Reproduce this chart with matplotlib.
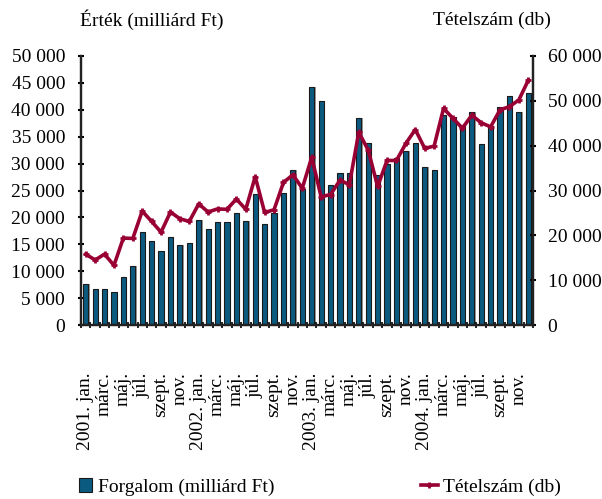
import numpy as np
import matplotlib
matplotlib.use('Agg')
import matplotlib.pyplot as plt
from matplotlib.ticker import FuncFormatter
from matplotlib.lines import Line2D
from matplotlib.patches import Patch

plt.rcParams['font.family'] = ['Liberation Serif', 'DejaVu Serif']

# monthly data 2001 jan - 2004 dec
forgalom = [7700, 6600, 6600, 6100, 8900, 11000, 17300, 15600, 13700, 16400, 14900, 15200,
            19500, 17900, 19100, 19100, 20900, 19300, 24300, 18800, 20900, 24500, 28800, 25300,
            44300, 41700, 26000, 28200, 28300, 38400, 33800, 27900,
            30000, 31000, 32400, 33800, 29400, 28800, 39000, 38600, 37200, 39500, 33600, 36900,
            40600, 42600, 39500, 43100]
tetelszam = [15800, 14500, 15800, 13300, 19400, 19300, 25400, 23100, 20700, 25200, 23700, 23100,
             27000, 25200, 25900, 25800, 28100, 25800, 33100, 25100, 25700, 31800, 33500, 30500,
             37400, 28600, 29100, 32300, 31300, 43000, 39000, 30900,
             36700, 36700, 40500, 43600, 39400, 39900, 48300, 46100, 43900, 46800, 45100, 44200,
             48000, 48700, 50200, 54600]
honapok = ['jan.', 'márc.', 'máj.', 'júl.', 'szept.', 'nov.']
evek = ['2001.', '2002.', '2003.', '2004.']

labels = []
for ev in evek:
    for h in honapok:
        labels.append((ev + ' ' + h) if h == 'jan.' else h)

bar_col = '#0b5a80'
line_col = '#990033'
fs = 14      # horizontal text
fs_rot = 14  # rotated month labels

fig = plt.figure(figsize=(6.02, 4.99), dpi=100)
ax = fig.add_axes([81 / 602, 1 - 325 / 499, 452 / 602, 269 / 499])
ax2 = ax.twinx()

x = np.arange(len(forgalom))
ax.bar(x + 0.12, forgalom, width=0.58, color='#999999', zorder=1)
ax.bar(x, forgalom, width=0.55, color=bar_col, edgecolor='#1a1a1a', linewidth=0.8, zorder=2)
ax2.plot(x, tetelszam, color=line_col, lw=2.6, marker='+', ms=5, mew=2, zorder=3)

ax.set_xlim(-0.5, len(x) - 0.5)
ax.set_ylim(0, 50000)
ax2.set_ylim(0, 60000)
ax.set_yticks(np.arange(0, 50001, 5000))
ax2.set_yticks(np.arange(0, 60001, 10000))
fmt = FuncFormatter(lambda v, p: '{:,}'.format(int(v)).replace(',', ' '))
ax.yaxis.set_major_formatter(fmt)
ax2.yaxis.set_major_formatter(fmt)

ax.set_xticks(x[::2])
ax.set_xticks(np.arange(-0.5, len(x), 1), minor=True)
ax.tick_params(axis='x', which='major', length=0, pad=34)
ax.tick_params(axis='x', which='minor', direction='inout', length=5, width=1.2)
ax.tick_params(axis='y', direction='inout', length=5, width=1.5, labelsize=fs, pad=9)
ax2.tick_params(axis='y', direction='inout', length=5, width=1.5, labelsize=fs, pad=8)
ax.set_xticklabels(labels)
plt.setp(ax.get_xticklabels(), rotation=90, rotation_mode='anchor',
         ha='right', va='center', fontsize=fs_rot)

for a in (ax, ax2):
    a.spines['top'].set_visible(False)
    for s in ('left', 'right', 'bottom'):
        a.spines[s].set_linewidth(1.6)
        a.spines[s].set_color('#222222')

fig.text(80 / 602, 1 - 20 / 499, 'Érték (milliárd Ft)', fontsize=fs, va='center', ha='left')
fig.text(433 / 602, 1 - 20 / 499, 'Tételszám (db)', fontsize=fs, va='center', ha='left')

handles = [Patch(facecolor=bar_col, edgecolor='#1a1a1a', linewidth=0.8)]
fig.legend(handles, ['Forgalom (milliárd Ft)'], loc='center left',
           bbox_to_anchor=(61 / 602, 1 - 487 / 499), frameon=False, fontsize=fs,
           handlelength=0.7, handleheight=0.7, handletextpad=0.3)
h2 = [Line2D([0], [0], color=line_col, lw=2.6, marker='+', ms=5, mew=2)]
fig.legend(h2, ['Tételszám (db)'], loc='center left',
           bbox_to_anchor=(403 / 602, 1 - 487 / 499), frameon=False, fontsize=fs,
           handlelength=0.9, handletextpad=0.25)

fig.savefig('out.png', dpi=100)
